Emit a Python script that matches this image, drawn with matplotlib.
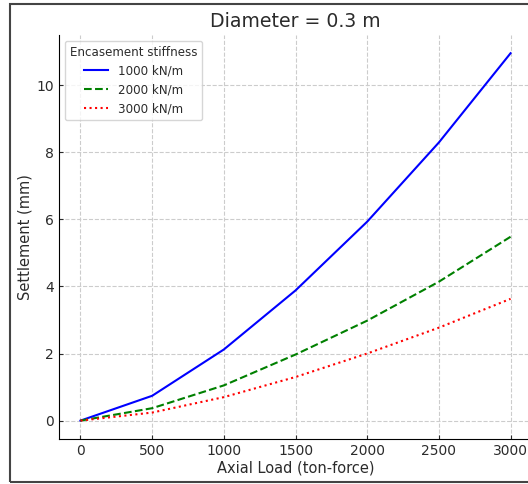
import matplotlib
matplotlib.use("Agg")
import matplotlib.pyplot as plt
from matplotlib.patches import Rectangle

load = [0, 500, 1000, 1500, 2000, 2500, 3000]
settle_1000 = [0, 0.74, 2.12, 3.88, 5.93, 8.29, 10.95]
settle_2000 = [0, 0.37, 1.05, 1.97, 2.98, 4.14, 5.48]
settle_3000 = [0, 0.24, 0.70, 1.30, 2.00, 2.77, 3.63]

txt = "#2b2b2b"
plt.rcParams["text.color"] = txt
plt.rcParams["axes.labelcolor"] = txt
plt.rcParams["xtick.color"] = txt
plt.rcParams["ytick.color"] = txt

fig = plt.figure(figsize=(5.28, 4.84), dpi=100)
ax = fig.add_axes([0.1117, 0.093, 0.896, 0.835])

ax.plot(load, settle_1000, color="blue", linestyle="-", lw=1.5, label="1000 kN/m")
ax.plot(load, settle_2000, color="green", linestyle="--", lw=1.5, label="2000 kN/m")
ax.plot(load, settle_3000, color="red", linestyle=":", lw=1.5, label="3000 kN/m")

ax.set_title("Diameter = 0.3 m", fontsize=13.6)
ax.set_xlabel("Axial Load (ton-force)", fontsize=10.5, labelpad=2)
ax.set_ylabel("Settlement (mm)", fontsize=10.5, labelpad=3)
ax.tick_params(labelsize=10, direction="in", length=3)
ax.set_xticks([0, 500, 1000, 1500, 2000, 2500, 3000])
ax.grid(True, linestyle="--", color="#cccccc", lw=0.8)
ax.spines["top"].set_visible(False)
ax.spines["right"].set_visible(False)
ax.legend(title="Encasement stiffness", loc="upper left", fontsize=8.6, title_fontsize=8.6)

# outer frame of the original screenshot
fig.patches.append(Rectangle((10 / 528, 2 / 484), 1.2, 1 - 6 / 484, transform=fig.transFigure,
                             fill=False, edgecolor="#444444", lw=1.5))

plt.savefig("out.png", dpi=100)
